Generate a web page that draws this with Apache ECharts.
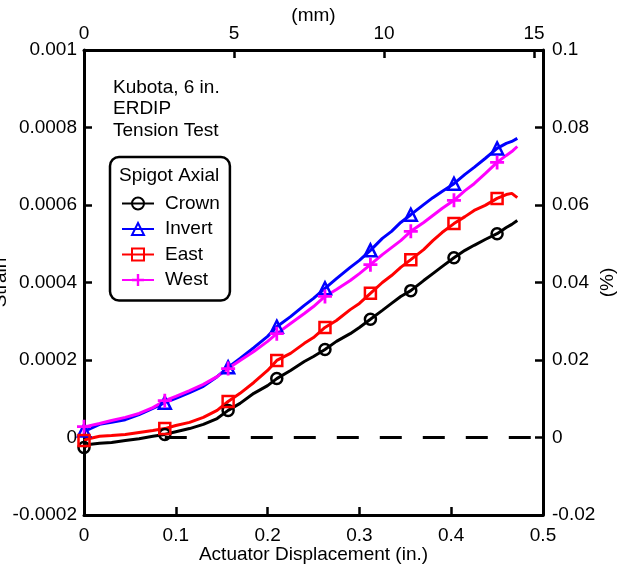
<!DOCTYPE html>
<html><head><meta charset="utf-8">
<script src="https://cdn.jsdelivr.net/npm/echarts@6/dist/echarts.min.js"></script>
<style>html,body{margin:0;padding:0;background:#fff}#c{width:629px;height:571px}</style>
</head><body><div id="c"></div>
<script>
// Actuator displacement (in.)
const disp = [0, 0.005, 0.017, 0.03, 0.045, 0.06, 0.075, 0.088, 0.10, 0.115,
  0.13, 0.145, 0.157, 0.17, 0.185, 0.2, 0.21, 0.225, 0.24, 0.25,
  0.2625, 0.275, 0.29, 0.3, 0.312, 0.325, 0.335, 0.345, 0.356, 0.37,
  0.38, 0.39, 0.403, 0.415, 0.425, 0.437, 0.45, 0.46, 0.466, 0.472];
// Strain
const crown = [-0.000026, -0.000018, -0.000015, -0.000013, -0.000008, -0.000003, 0.000003, 0.000008, 0.000015, 0.000023,
  0.000034, 0.000049, 0.000070, 0.000088, 0.000114, 0.000134, 0.000152, 0.000173, 0.000196, 0.000209,
  0.000227, 0.000248, 0.000268, 0.000284, 0.000305, 0.000328, 0.000346, 0.000364, 0.000379, 0.000405,
  0.000423, 0.000441, 0.000464, 0.000483, 0.000496, 0.000511, 0.000526, 0.000542, 0.000550, 0.000560];
const invert = [0.000018, 0.000021, 0.000034, 0.000039, 0.000046, 0.000059, 0.000075, 0.000090, 0.000101, 0.000116,
  0.000132, 0.000157, 0.000181, 0.000204, 0.000232, 0.000261, 0.000286, 0.000312, 0.000341, 0.000359,
  0.000385, 0.000410, 0.000439, 0.000457, 0.000483, 0.000514, 0.000532, 0.000555, 0.000575, 0.000601,
  0.000619, 0.000635, 0.000655, 0.000679, 0.000697, 0.000720, 0.000746, 0.000759, 0.000764, 0.000772];
const east = [-0.000008, -0.000003, 0.000003, 0.000005, 0.000008, 0.000013, 0.000018, 0.000023, 0.000031, 0.000039,
  0.000052, 0.000070, 0.000093, 0.000114, 0.000142, 0.000173, 0.000199, 0.000217, 0.000243, 0.000258,
  0.000284, 0.000302, 0.000330, 0.000346, 0.000372, 0.000400, 0.000418, 0.000439, 0.000459, 0.000485,
  0.000508, 0.000529, 0.000552, 0.000570, 0.000586, 0.000599, 0.000617, 0.000627, 0.000630, 0.000619];
const west = [0.000028, 0.000030, 0.000036, 0.000044, 0.000052, 0.000062, 0.000077, 0.000095, 0.000106, 0.000121,
  0.000137, 0.000157, 0.000178, 0.000199, 0.000222, 0.000248, 0.000268, 0.000294, 0.000320, 0.000338,
  0.000364, 0.000382, 0.000405, 0.000423, 0.000446, 0.000472, 0.000490, 0.000508, 0.000532, 0.000555,
  0.000573, 0.000591, 0.000612, 0.000637, 0.000655, 0.000681, 0.000710, 0.000728, 0.000738, 0.000751];
// indices of points that carry a marker
const markerIdx = [0, 7, 12, 16, 20, 24, 28, 32, 36];
// dashed zero-strain reference line
const zeroLine = [[0.088, 0], [0.5, 0]];
const seriesNames = ['Crown', 'Invert', 'East', 'West'];
const noteLines = ['Kubota, 6 in.', 'ERDIP', 'Tension Test'];
const legendTitle = 'Spigot Axial';

const FONT = '"Liberation Sans", Arial, sans-serif';
const FS = 19;
function build(ys) {
  return disp.map((x, i) => markerIdx.includes(i) ? [x, ys[i]] : { value: [x, ys[i]], symbol: 'none' });
}
function fmt(v) { return String(+(+v).toFixed(6)); }

const chart = echarts.init(document.getElementById('c'), null, { renderer: 'canvas' });
const axisCommon = {
  nameMoveOverlap: false,
  axisLine: { show: true, onZero: false, lineStyle: { color: '#000', width: 3 } },
  axisTick: { show: true, inside: true, length: 8, lineStyle: { color: '#000', width: 2.5 } },
  splitLine: { show: false },
  axisLabel: { color: '#000', fontSize: FS, fontFamily: FONT },
  nameTextStyle: { color: '#000', fontSize: FS, fontFamily: FONT }
};
function lineSeries(name, ys, color, symbol, size, filled) {
  return {
    name, type: 'line', xAxisIndex: 0, yAxisIndex: 0,
    data: build(ys), symbol, symbolSize: size, showAllSymbol: true,
    lineStyle: { color, width: 3 },
    itemStyle: filled ? { color } : { color: 'rgba(255,255,255,0)', borderColor: color, borderWidth: 2.5 },
    emphasis: { disabled: true }, animation: false, z: 3
  };
}
const option = {
  animation: false,
  grid: { left: 84, right: 86, top: 50, bottom: 56, containLabel: false, outerBoundsMode: 'none' },
  xAxis: [
    Object.assign({}, axisCommon, {
      type: 'value', position: 'bottom', min: 0, max: 0.5, interval: 0.1,
      name: 'Actuator Displacement (in.)', nameLocation: 'middle', nameGap: 30,
      axisLabel: Object.assign({}, axisCommon.axisLabel, { margin: 11, formatter: fmt })
    }),
    Object.assign({}, axisCommon, {
      type: 'value', position: 'top', min: 0, max: 15.3, interval: 5,
      name: '(mm)', nameLocation: 'middle', nameGap: 25,
      axisLabel: Object.assign({}, axisCommon.axisLabel, { margin: 7, showMaxLabel: false,
        formatter: v => (Math.abs(v % 5) < 1e-9 ? String(v) : '') })
    })
  ],
  yAxis: [
    Object.assign({}, axisCommon, {
      type: 'value', position: 'left', min: -0.0002, max: 0.001, interval: 0.0002,
      name: 'Strain', nameLocation: 'middle', nameGap: 74, nameRotate: 90,
      axisLabel: Object.assign({}, axisCommon.axisLabel, { margin: 7, formatter: fmt })
    }),
    Object.assign({}, axisCommon, {
      type: 'value', position: 'right', min: -0.02, max: 0.1, interval: 0.02,
      name: '(%)', nameLocation: 'middle', nameGap: 55, nameRotate: 90,
      axisLabel: Object.assign({}, axisCommon.axisLabel, { margin: 9, formatter: fmt })
    })
  ],
  legend: {
    data: seriesNames, orient: 'vertical', left: 110, top: 157,
    padding: [37, 10, 11, 11], itemGap: 6.5, itemWidth: 32, itemHeight: 15,
    borderColor: '#000', borderWidth: 2.5, borderRadius: 9, backgroundColor: '#fff',
    textStyle: { color: '#000', fontSize: FS, fontFamily: FONT, padding: [0, 0, 0, 6] },
    selectedMode: false
  },
  graphic: [
    { type: 'text', left: 113, top: 77, z: 100,
      style: { text: noteLines.join('\n'), font: FS + 'px ' + FONT, fill: '#000', lineHeight: 21.5 } },
    { type: 'text', left: 119, top: 166, z: 100,
      style: { text: legendTitle, font: FS + 'px ' + FONT, fill: '#000' } }
  ],
  series: [
    { name: 'zero', type: 'line', data: zeroLine, symbol: 'none', silent: true,
      lineStyle: { color: '#000', width: 3, type: [22, 21] }, z: 2 },
    lineSeries('Crown', crown, '#000000', 'circle', 11, false),
    lineSeries('Invert', invert, '#0000ff', 'triangle', 12, false),
    lineSeries('East', east, '#ff0000', 'rect', 11, false),
    lineSeries('West', west, '#ff00ff', 'path://M4,0H6V4H10V6H6V10H4V6H0V4H4Z', 14, true)
  ]
};
chart.setOption(option);
</script></body></html>
